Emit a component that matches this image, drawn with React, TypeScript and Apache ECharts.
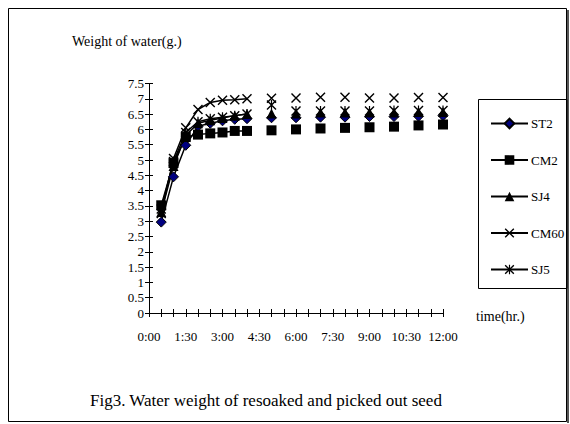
import React, { useEffect, useRef } from "react";
import * as echarts from "echarts";

const times = [
  "0:00", "0:30", "1:00", "1:30", "2:00", "2:30", "3:00", "3:30", "4:00", "4:30",
  "5:00", "5:30", "6:00", "6:30", "7:00", "7:30", "8:00", "8:30", "9:00", "9:30",
  "10:00", "10:30", "11:00", "11:30", "12:00",
];

const ST2 = [null, 2.97, 4.45, 5.48, 6.1, 6.2, 6.28, 6.33, 6.35, null, 6.38, null, 6.38, null, 6.4, null, 6.4, null, 6.42, null, 6.42, null, 6.43, null, 6.45];
const CM2 = [null, 3.52, 4.9, 5.75, 5.83, 5.87, 5.9, 5.95, 5.95, null, 5.97, null, 6.0, null, 6.03, null, 6.05, null, 6.07, null, 6.09, null, 6.13, null, 6.16];
const SJ4 = [null, 3.3, 4.8, 5.8, 6.2, 6.3, 6.37, 6.45, 6.5, null, 6.52, null, 6.52, null, 6.55, null, 6.55, null, 6.55, null, 6.55, null, 6.57, null, 6.57];
const CM60 = [null, 3.25, 5.05, 6.05, 6.65, 6.88, 6.95, 6.97, 7.0, null, 7.02, null, 7.03, null, 7.05, null, 7.05, null, 7.03, null, 7.03, null, 7.04, null, 7.04];
const SJ5 = [null, 3.4, 4.95, 5.9, 6.25, 6.35, 6.4, 6.45, 6.5, null, 6.8, null, 6.6, null, 6.6, null, 6.6, null, 6.6, null, 6.62, null, 6.62, null, 6.62];

const seriesNames = ["ST2", "CM2", "SJ4", "CM60", "SJ5"];

const X_PATH = "path://M0,1 L1,0 L10,9 L9,10 Z M9,0 L10,1 L1,10 L0,9 Z";
const STAR_PATH = "path://M0,1 L1,0 L10,9 L9,10 Z M9,0 L10,1 L1,10 L0,9 Z M4.4,0 L5.6,0 L5.6,10 L4.4,10 Z";

const FONT = "Liberation Serif";

export default function App() {
  const ref = useRef<HTMLDivElement>(null);
  useEffect(() => {
    document.body.style.margin = "0";
    if (!ref.current) return;
    const chart = echarts.init(ref.current, null, { renderer: "svg" });
    const mk = (name: string, data: (number | null)[], symbol: string, size: number, color: string) => ({
      name,
      type: "line",
      data,
      symbol,
      symbolSize: size,
      showSymbol: true,
      showAllSymbol: true,
      connectNulls: false,
      lineStyle: { color: "#000", width: 1.5 },
      itemStyle: { color, borderColor: "#000", borderWidth: name === "ST2" ? 1 : 0 },
      xAxisIndex: 0,
      yAxisIndex: 0,
    });
    chart.setOption({
      animation: false,
      backgroundColor: "#fff",
      textStyle: { fontFamily: FONT },
      grid: { left: 149, top: 83.5, width: 294, height: 229.5, containLabel: false },
      xAxis: [
        {
          type: "category",
          data: times,
          boundaryGap: false,
          axisLine: { lineStyle: { color: "#000", width: 1 } },
          axisTick: { show: true, interval: 0, length: 4, lineStyle: { color: "#000" } },
          axisLabel: { interval: 2, color: "#000", fontFamily: FONT, fontSize: 13, margin: 17 },
          splitLine: { show: false },
        },
        {
          type: "category",
          data: times,
          boundaryGap: false,
          position: "bottom",
          axisLine: { show: false },
          axisTick: { show: true, inside: true, interval: 0, length: 4, lineStyle: { color: "#000" } },
          axisLabel: { show: false },
          splitLine: { show: false },
        },
      ],
      yAxis: [
        {
          type: "value",
          min: 0,
          max: 7.5,
          interval: 0.5,
          axisLine: { show: true, lineStyle: { color: "#000", width: 1 } },
          axisTick: { show: true, length: 4, lineStyle: { color: "#000" } },
          axisLabel: { color: "#000", fontFamily: FONT, fontSize: 13, margin: 5 },
          splitLine: { show: false },
        },
        {
          type: "value",
          min: 0,
          max: 7.5,
          interval: 0.5,
          position: "left",
          axisLine: { show: false },
          axisTick: { show: true, inside: true, length: 4, lineStyle: { color: "#000" } },
          axisLabel: { show: false },
          splitLine: { show: false },
        },
      ],
      legend: {
        orient: "vertical",
        left: 485,
        top: 112,
        itemWidth: 37,
        itemHeight: 12,
        itemGap: 23.5,
        data: seriesNames,
        textStyle: { fontFamily: FONT, fontSize: 13, color: "#000", padding: [0, 0, 0, -2] },
      },
      graphic: [
        {
          type: "rect",
          shape: { x: 8.5, y: 8.5, width: 558, height: 413 },
          style: { fill: "none", stroke: "#000", lineWidth: 1 },
          z: -1,
        },
        {
          type: "rect",
          shape: { x: 567, y: 10, width: 2, height: 413 },
          style: { fill: "#555" },
        },
        {
          type: "rect",
          shape: { x: 478.5, y: 99.5, width: 88.5, height: 189 },
          style: { fill: "none", stroke: "#000", lineWidth: 1 },
        },
        {
          type: "text",
          left: 72,
          top: 34,
          style: { text: "Weight of water(g.)", font: `14px "${FONT}"`, fill: "#000" },
        },
        {
          type: "text",
          left: 476,
          top: 309,
          style: { text: "time(hr.)", font: `14px "${FONT}"`, fill: "#000" },
        },
        {
          type: "text",
          left: 90,
          top: 392,
          style: { text: "Fig3. Water weight of resoaked and picked out seed", font: `17px "${FONT}"`, fill: "#000" },
        },
      ],
      series: [
        mk("ST2", ST2, "diamond", 10, "#000080"),
        mk("CM2", CM2, "rect", 10, "#000"),
        mk("SJ4", SJ4, "triangle", 10, "#000"),
        mk("CM60", CM60, X_PATH, 10, "#000"),
        mk("SJ5", SJ5, STAR_PATH, 10, "#000"),
      ],
    });
    return () => chart.dispose();
  }, []);
  return <div ref={ref} style={{ width: 570, height: 424 }} />;
}
